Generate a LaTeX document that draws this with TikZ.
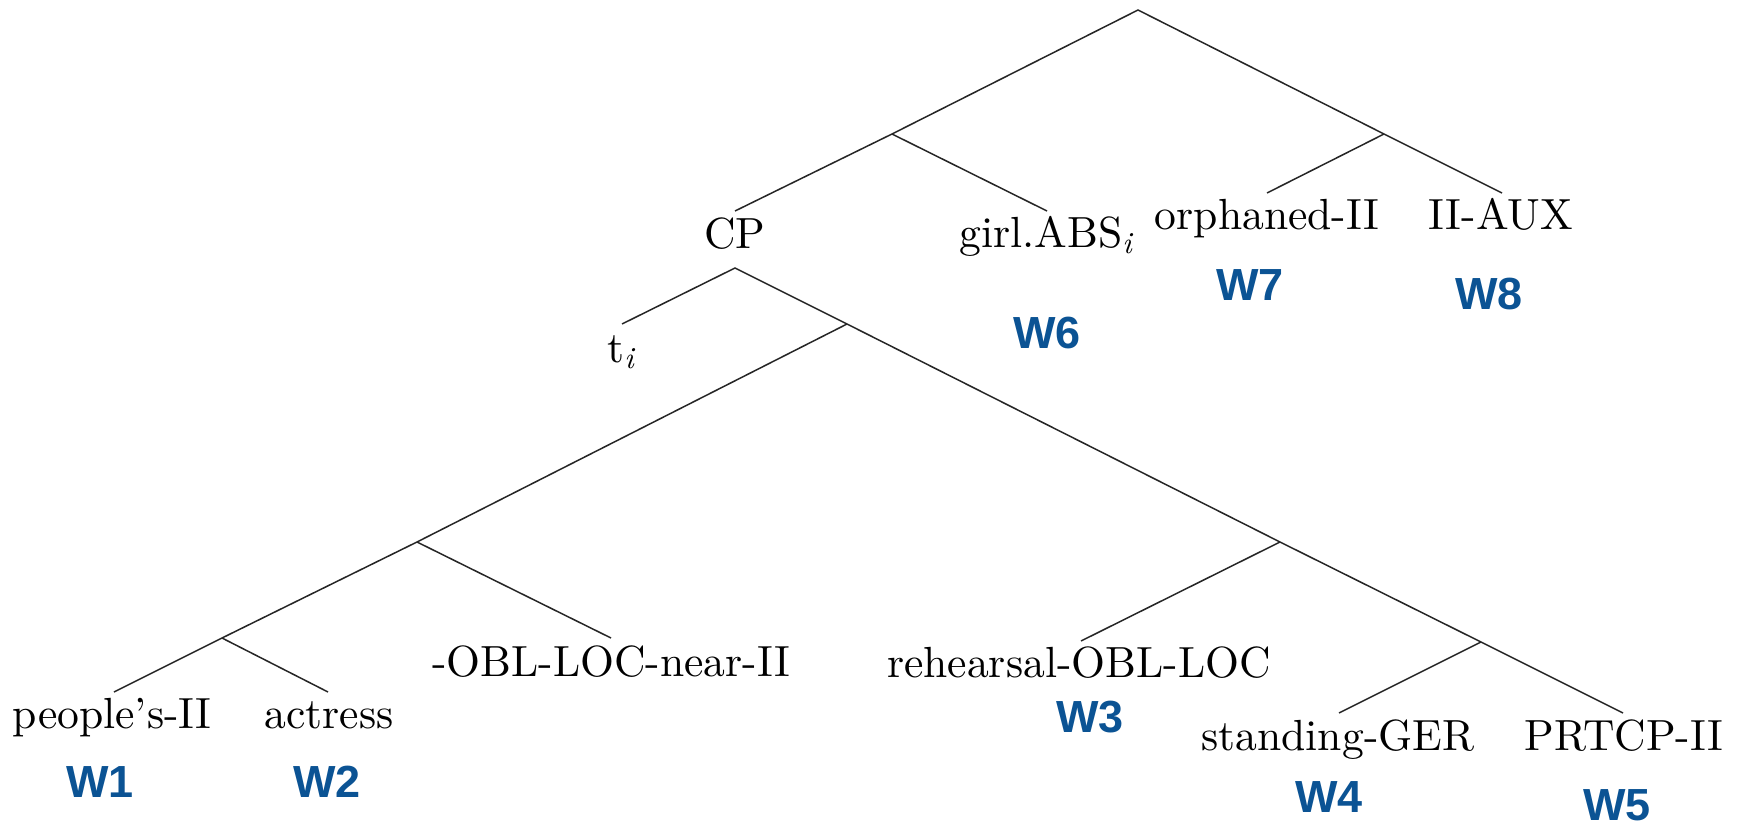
\documentclass[tikz,border=0pt]{standalone}
\usepackage{fontspec}
\setmainfont{lmroman10-regular.otf}[ItalicFont=lmroman10-italic.otf, BoldFont=lmroman10-bold.otf]
\newfontfamily\wfont{Liberation Sans}
\definecolor{wblue}{RGB}{11,83,148}
\newcommand{\subi}{\textsubscript{\itshape i}}
\begin{document}
\begin{tikzpicture}[x=0.5pt,y=-0.5pt]
\tikzset{
  word/.style={anchor=base, inner sep=0pt, font=\fontsize{21.8}{26}\selectfont},
  wlab/.style={anchor=base, inner sep=0pt, text=wblue, font={\wfont\bfseries\fontsize{22.5}{26}\selectfont}},
  branch/.style={line width=0.75pt, black!85}
}
\fill[white] (0,0) rectangle (1742,825);
\useasboundingbox (0,0) rectangle (1742,825);
% tree points
\coordinate (root) at (1138,10);
\coordinate (lj) at (892,134);
\coordinate (rj) at (1384,134);
\coordinate (cpT) at (735,211);
\coordinate (cpB) at (735,268);
\coordinate (girlT) at (1047,211);
\coordinate (orphT) at (1267,193);
\coordinate (auxT) at (1502,193);
\coordinate (tiT) at (622,324);
\coordinate (j1) at (847,324);
\coordinate (j2) at (417,542);
\coordinate (j3) at (222,638);
\coordinate (peopT) at (114,692);
\coordinate (actT) at (328,692);
\coordinate (oblT) at (611,638);
\coordinate (j4) at (1280,542);
\coordinate (rehT) at (1081,641);
\coordinate (j5) at (1481,642);
\coordinate (standT) at (1339,713);
\coordinate (prtT) at (1623,713);
% branches
\draw[branch] (cpT) -- (lj) -- (root) -- (rj) -- (auxT);
\draw[branch] (lj) -- (girlT);
\draw[branch] (rj) -- (orphT);
\draw[branch] (tiT) -- (cpB) -- (j1) -- (j4) -- (j5) -- (prtT);
\draw[branch] (j1) -- (j2) -- (j3) -- (peopT);
\draw[branch] (j3) -- (actT);
\draw[branch] (j2) -- (oblT);
\draw[branch] (j4) -- (rehT);
\draw[branch] (j5) -- (standT);
% words
\node[word] (cp) at (735,248) {CP};
\node[word] (girl) at (1046,247) {girl.ABS\subi};
\node[word] (orph) at (1267,229) {orphaned-II};
\node[word] (aux) at (1501,229) {II-AUX};
\node[word, anchor=base west] (ti) at (607,362) {t\subi};
\node[word] (peop) at (112,728) {people's-II};
\node[word] (act) at (329,728) {actress};
\node[word] (obl) at (611,676) {-OBL-LOC-near-II};
\node[word] (reh) at (1079,677) {rehearsal-OBL-LOC};
\node[word] (stand) at (1338,750) {standing-GER};
\node[word] (prt) at (1624,750) {PRTCP-II};
% W labels
\node[wlab] (w1) at (100,797) {W1};
\node[wlab] (w2) at (327,797) {W2};
\node[wlab] (w3) at (1090,732) {W3};
\node[wlab] (w4) at (1329,812) {W4};
\node[wlab] (w5) at (1617,820) {W5};
\node[wlab] (w6) at (1047,348) {W6};
\node[wlab] (w7) at (1250,300) {W7};
\node[wlab] (w8) at (1489,309) {W8};
\end{tikzpicture}
\end{document}
